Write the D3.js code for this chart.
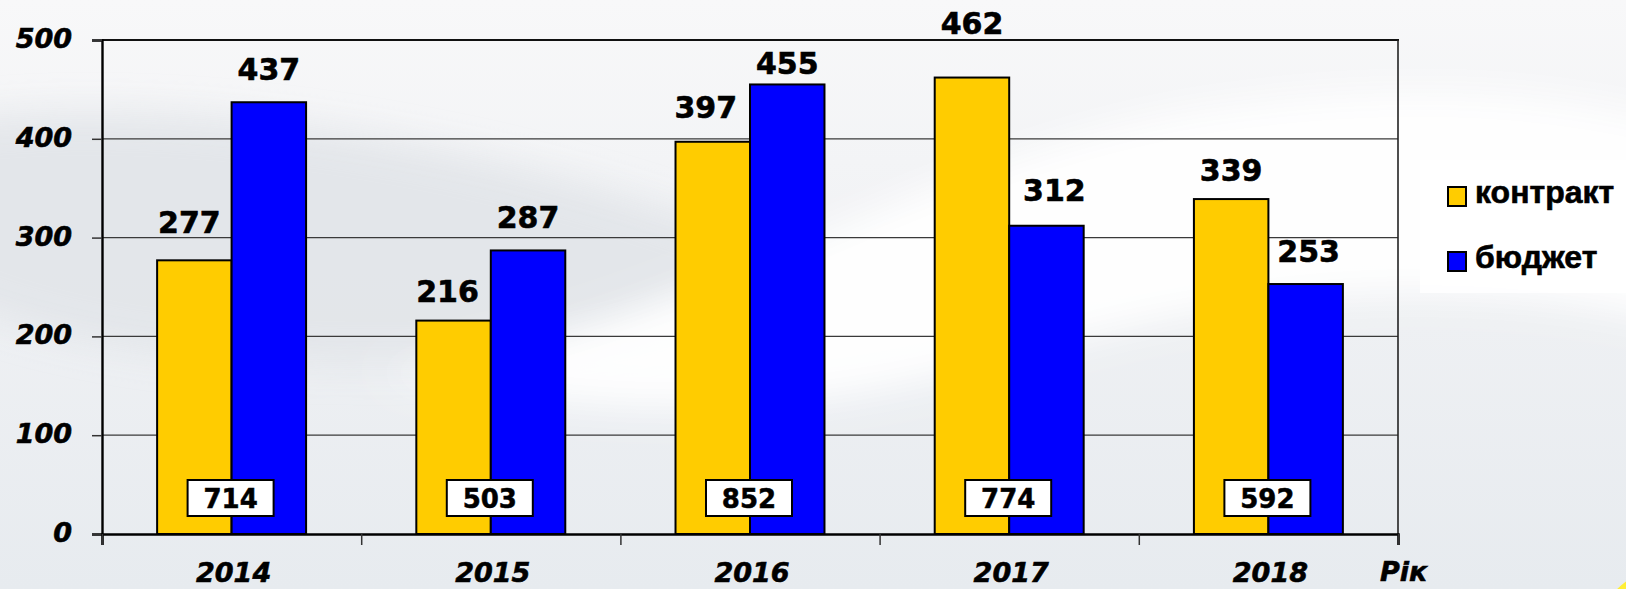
<!DOCTYPE html>
<html>
<head>
<meta charset="utf-8">
<script src="https://cdn.jsdelivr.net/npm/d3@7"></script>
<style>
  html, body { margin: 0; padding: 0; background: #f3f4f6; }
  svg { display: block; }
</style>
</head>
<body>
<svg id="chart" width="1626" height="589"></svg>
<script>
// ---- data ----
const years = ["2014", "2015", "2016", "2017", "2018"];
const seriesNames = ["контракт", "бюджет"];
const contractValues = [277, 216, 397, 462, 339];
const budgetValues = [437, 287, 455, 312, 253];
const totalValues = [714, 503, 852, 774, 592];
const yTickValues = [0, 100, 200, 300, 400, 500];
const axisTitle = "Рік";

// ---- layout / style (kept separate from the data) ----
const W = 1626, H = 589;
const plot = { left: 102, right: 1398, top: 40, bottom: 534 };
const colors = { "контракт": "#FFCC00", "бюджет": "#0000FF" };
// label nudges [dx, gap above bar top] imitating hand-placed labels
const contractNudge = [[-5, 27], [-6, 19], [-7, 24], [0, 44], [0, 18]];
const budgetNudge = [[0, 22], [0, 22], [0, 10], [8, 25], [3, 22]];
const numFont = "'DejaVu Sans', Verdana, sans-serif";
const legendFont = "'Liberation Sans', Arial, sans-serif";

const svg = d3.select("#chart");
const defs = svg.append("defs");

// background gradient
const bg = defs.append("linearGradient").attr("id", "bgGrad")
  .attr("x1", 0).attr("y1", 0).attr("x2", 0).attr("y2", 1);
bg.append("stop").attr("offset", "0%").attr("stop-color", "#f8f8f9");
bg.append("stop").attr("offset", "55%").attr("stop-color", "#eef0f3");
bg.append("stop").attr("offset", "100%").attr("stop-color", "#e7ebef");
defs.append("filter").attr("id", "blur").attr("x", "-20%").attr("y", "-50%").attr("width", "140%").attr("height", "200%")
  .append("feGaussianBlur").attr("stdDeviation", 18);
const yg = defs.append("radialGradient").attr("id", "yellowGrad");
yg.append("stop").attr("offset", "0%").attr("stop-color", "#ffff99");
yg.append("stop").attr("offset", "100%").attr("stop-color", "#ffee33");

svg.append("rect").attr("width", W).attr("height", H).attr("fill", "url(#bgGrad)");
// gray swirl on the left
svg.append("path")
  .attr("d", "M-50,120 C200,90 500,150 700,220 C850,270 700,360 420,365 C200,370 40,340 -50,300 Z")
  .attr("fill", "#e2e5e9").attr("filter", "url(#blur)").attr("opacity", 0.9);
// white swoosh rising to the right
svg.append("path")
  .attr("d", "M380,372 C700,330 900,160 1200,110 C1400,80 1560,90 1700,130 L1700,330 C1450,260 1200,300 1000,360 C800,420 600,420 380,372 Z")
  .attr("fill", "#ffffff").attr("filter", "url(#blur)").attr("opacity", 0.95);
// yellow decoration bottom-right
svg.append("circle").attr("cx", 1668).attr("cy", 640).attr("r", 72).attr("fill", "url(#yellowGrad)");

// ---- scales ----
const x0 = d3.scaleBand().domain(years).range([plot.left, plot.right]).padding(0);
const x1 = d3.scaleBand().domain(seriesNames).range([0, x0.bandwidth()])
  .paddingInner(0).paddingOuter(0.74);
const y = d3.scaleLinear().domain([0, 500]).range([plot.bottom, plot.top]);
const xb = d3.scaleLinear().domain([0, years.length]).range([plot.left, plot.right]);

// gridlines
svg.append("g").selectAll("line").data(yTickValues.filter(v => v > 0 && v < 500)).join("line")
  .attr("x1", plot.left).attr("x2", plot.right)
  .attr("y1", d => y(d)).attr("y2", d => y(d))
  .attr("stroke", "#3a3a3a").attr("stroke-width", 1.3);
// top and right border
svg.append("line").attr("x1", plot.left).attr("x2", plot.right + 1)
  .attr("y1", y(500)).attr("y2", y(500)).attr("stroke", "#111").attr("stroke-width", 2.2);
svg.append("line").attr("x1", plot.right).attr("x2", plot.right)
  .attr("y1", y(500)).attr("y2", y(0)).attr("stroke", "#222").attr("stroke-width", 1.6);

// ---- bars ----
const rows = years.map((yr, i) => ({
  year: yr, i,
  vals: [
    { key: seriesNames[0], v: contractValues[i], nudge: contractNudge[i] },
    { key: seriesNames[1], v: budgetValues[i], nudge: budgetNudge[i] }
  ],
  total: totalValues[i]
}));

const groups = svg.append("g").selectAll("g").data(rows).join("g")
  .attr("transform", d => `translate(${x0(d.year)},0)`);

groups.selectAll("rect").data(d => d.vals).join("rect")
  .attr("x", d => x1(d.key))
  .attr("y", d => y(d.v))
  .attr("width", x1.bandwidth())
  .attr("height", d => y(0) - y(d.v))
  .attr("fill", d => colors[d.key])
  .attr("stroke", "#000").attr("stroke-width", 2);

groups.selectAll("text.val").data(d => d.vals).join("text").attr("class", "val")
  .attr("x", d => x1(d.key) + x1.bandwidth() / 2 + d.nudge[0])
  .attr("y", d => y(d.v) - d.nudge[1])
  .attr("text-anchor", "middle")
  .attr("font-family", numFont).attr("font-weight", "bold").attr("font-size", 30)
  .attr("fill", "#000").attr("stroke", "#000").attr("stroke-width", 0.6)
  .text(d => d.v);

// total boxes
groups.append("rect")
  .attr("x", x0.bandwidth() / 2 - 44).attr("y", y(0) - 54)
  .attr("width", 86).attr("height", 36)
  .attr("fill", "#fff").attr("stroke", "#000").attr("stroke-width", 2);
groups.append("text")
  .attr("x", x0.bandwidth() / 2 - 1).attr("y", y(0) - 26.5)
  .attr("text-anchor", "middle")
  .attr("font-family", numFont).attr("font-weight", "bold").attr("font-size", 26)
  .attr("stroke", "#000").attr("stroke-width", 0.5)
  .text(d => d.total);

// ---- axes ----
const yAxis = d3.axisLeft(y).tickValues(yTickValues).tickSize(10).tickPadding(20)
  .tickFormat(d3.format("d"));
const gy = svg.append("g").attr("transform", `translate(${plot.left},0)`).call(yAxis);
gy.select(".domain").attr("stroke", "#000").attr("stroke-width", 2.4);
gy.selectAll(".tick line").attr("stroke", "#333").attr("stroke-width", 1.5);
gy.selectAll(".tick text")
  .attr("font-family", numFont).attr("font-weight", "bold").attr("font-style", "italic")
  .attr("font-size", 27).attr("fill", "#000").attr("dy", "0.28em")
  .attr("stroke", "#000").attr("stroke-width", 0.6);

const xAxis = d3.axisBottom(xb).tickValues(d3.range(years.length + 1)).tickSize(11).tickFormat("");
const gx = svg.append("g").attr("transform", `translate(0,${plot.bottom})`).call(xAxis);
gx.select(".domain").attr("stroke", "#000").attr("stroke-width", 2.6);
gx.selectAll(".tick line").attr("stroke", "#333").attr("stroke-width", 1.5);

svg.append("g").selectAll("text").data(years).join("text")
  .attr("x", d => x0(d) + x0.bandwidth() / 2 + 2)
  .attr("y", 582)
  .attr("text-anchor", "middle")
  .attr("font-family", numFont).attr("font-weight", "bold").attr("font-style", "italic")
  .attr("font-size", 27).attr("fill", "#000").attr("stroke", "#000").attr("stroke-width", 0.6)
  .text(d => d);

svg.append("text").attr("x", 1380).attr("y", 581)
  .attr("font-family", numFont).attr("font-weight", "bold").attr("font-style", "italic")
  .attr("font-size", 27).attr("fill", "#000").attr("stroke", "#000").attr("stroke-width", 0.6)
  .text(axisTitle);

// ---- legend ----
svg.append("rect").attr("x", 1420).attr("y", 160).attr("width", 206).attr("height", 133)
  .attr("fill", "#ffffff").attr("opacity", 0.85);
const leg = svg.append("g").selectAll("g").data(seriesNames).join("g")
  .attr("transform", (d, i) => `translate(1448,${187 + i * 65})`);
leg.append("rect").attr("width", 18).attr("height", 19)
  .attr("fill", d => colors[d]).attr("stroke", "#000").attr("stroke-width", 2);
leg.append("text").attr("x", 27).attr("y", 16)
  .attr("font-family", legendFont).attr("font-weight", "bold").attr("font-size", 32)
  .attr("fill", "#000").attr("stroke", "#000").attr("stroke-width", 0.6)
  .text(d => d);
</script>
</body>
</html>
